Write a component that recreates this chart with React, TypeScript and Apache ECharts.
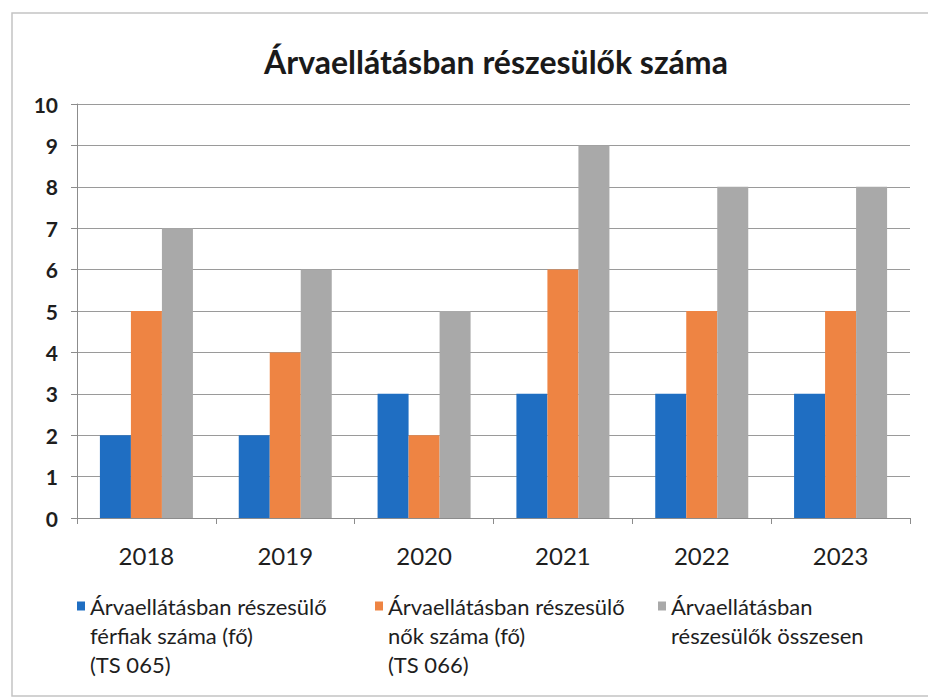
import React, { useEffect, useRef } from "react";
import * as echarts from "echarts";

const years = ["2018", "2019", "2020", "2021", "2022", "2023"];
const yTicks = [0, 1, 2, 3, 4, 5, 6, 7, 8, 9, 10];
const maleValues = [2, 2, 3, 3, 3, 3];
const femaleValues = [5, 4, 2, 6, 5, 5];
const totalValues = [7, 6, 5, 9, 8, 8];

const seriesNames = [
  "Árvaellátásban részesülő férfiak száma (fő) (TS 065)",
  "Árvaellátásban részesülő nők száma (fő) (TS 066)",
  "Árvaellátásban részesülők összesen",
];
const legendLines: string[][] = [
  ["Árvaellátásban részesülő", "férfiak száma (fő)", "(TS 065)"],
  ["Árvaellátásban részesülő", "nők száma (fő)", "(TS 066)"],
  ["Árvaellátásban", "részesülők összesen"],
];
const colors = ["#1F6EC2", "#EE8443", "#A9A9A9"];

const FONT = "Lato, 'Open Sans', sans-serif";

export default function App() {
  const ref = useRef<HTMLDivElement>(null);
  useEffect(() => {
    if (!ref.current) return;
    const chart = echarts.init(ref.current, undefined, { renderer: "svg" });
    const data = [maleValues, femaleValues, totalValues];
    const legendLeft = [77, 375, 658];
    const LH = 29;
    const firstLineY = 606;
    const legends = seriesNames.map((name, i) => {
      const lines = legendLines[i];
      const n = lines.length;
      const pad = n - 1;
      const total = n + pad;
      return {
        data: [name],
        left: legendLeft[i],
        top: firstLineY - (total * LH) / 2,
        orient: "horizontal",
        padding: 0,
        itemWidth: 8,
        itemHeight: 9,
        icon: "rect",
        formatter: () => "\n".repeat(pad) + lines.join("\n"),
        textStyle: {
          fontFamily: FONT,
          fontSize: 22,
          lineHeight: LH,
          color: "#1e1e1e",
        },
        selectedMode: false,
      };
    });
    chart.setOption({
      animation: false,
      backgroundColor: "#ffffff",
      title: {
        text: "Árvaellátásban részesülők száma",
        left: 491,
        textAlign: "center",
        top: 40,
        textStyle: {
          fontFamily: FONT,
          fontSize: 32,
          fontWeight: "bold",
          color: "#1a1a1a",
        },
      },
      legend: legends,
      grid: { left: 77, right: 18, top: 104, bottom: 181 },
      xAxis: {
        type: "category",
        data: years,
        axisLine: { show: true, lineStyle: { color: "#8c8c8c", width: 1 } },
        axisTick: { show: true, length: 6, alignWithLabel: false, lineStyle: { color: "#8c8c8c" } },
        axisLabel: {
          margin: 25,
          fontFamily: FONT,
          fontSize: 24,
          color: "#1e1e1e",
        },
      },
      yAxis: {
        type: "value",
        min: yTicks[0],
        max: yTicks[yTicks.length - 1],
        interval: 1,
        axisLine: { show: true, lineStyle: { color: "#8c8c8c", width: 1 } },
        axisTick: { show: true, length: 6, lineStyle: { color: "#8c8c8c" } },
        axisLabel: {
          margin: 19,
          fontFamily: FONT,
          fontSize: 21,
          fontWeight: "bold",
          color: "#1e1e1e",
        },
        splitLine: { show: true, lineStyle: { color: "#9a9a9a", width: 1 } },
      },
      graphic: [
        {
          type: "rect",
          shape: { x: 12, y: 13, width: 940, height: 683 },
          style: { fill: "none", stroke: "#c4c4c4", lineWidth: 1.5 },
          silent: true,
          z: -1,
        },
      ],
      series: seriesNames.map((name, i) => ({
        type: "bar",
        name,
        data: data[i],
        barGap: "0%",
        barCategoryGap: "33%",
        itemStyle: { color: colors[i] },
      })),
    });
    return () => chart.dispose();
  }, []);
  return (
    <div
      ref={ref}
      style={{ position: "fixed", left: 0, top: 0, width: 928, height: 699 }}
    />
  );
}
